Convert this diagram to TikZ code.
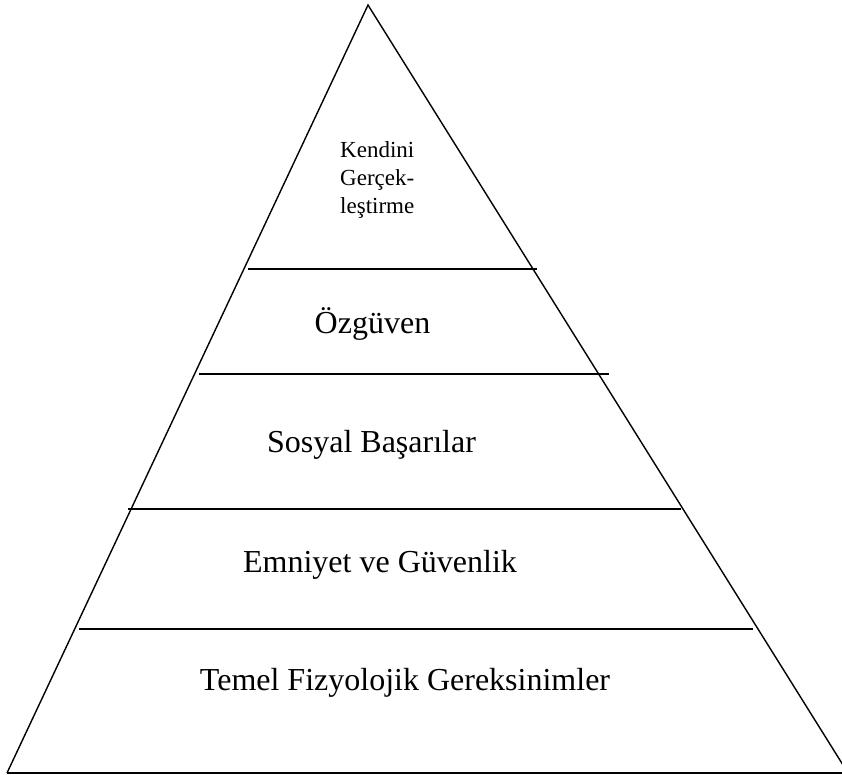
\documentclass[tikz,border=0pt]{standalone}
\usepackage{fontspec}
\setmainfont{Liberation Serif}
\usepackage{tikz}
\usetikzlibrary{positioning}

\tikzset{
  side/.style={draw=black, line width=1.4pt},
  layer/.style={draw=black, line width=2.3pt},
  stage/.style={anchor=base, inner sep=0pt, font=\fontsize{32}{38}\selectfont},
  topstage/.style={anchor=north west, inner sep=0pt, align=left, font=\fontsize{23}{28}\selectfont}
}

\begin{document}
\begin{tikzpicture}[x=1pt, y=-1pt]
\useasboundingbox (0,0) rectangle (842,774);

% pyramid
\coordinate (apex) at (368,5);
\coordinate (bl) at (7,773);
\coordinate (br) at (848,773);
\draw [side] (bl) -- (apex) -- (br);
\draw [side] (bl) -- (br);

% layers
\foreach \y/\xa/\xb in {269/248/537, 374/199/609, 509/128/681, 629/79/753}
  \draw [layer] (\xa,\y) -- (\xb,\y);

\node (kendini) [topstage] at (340,141) {Kendini\\Gerçek-\\leştirme};
\node (ozguven) [stage] at (372.5,333) {Özgüven};
\node (sosyal) [stage] at (371.5,452) {Sosyal Başarılar};
\node (emniyet) [stage] at (380,572) {Emniyet ve Güvenlik};
\node (temel) [stage] at (405,690) {Temel Fizyolojik Gereksinimler};
\end{tikzpicture}
\end{document}
